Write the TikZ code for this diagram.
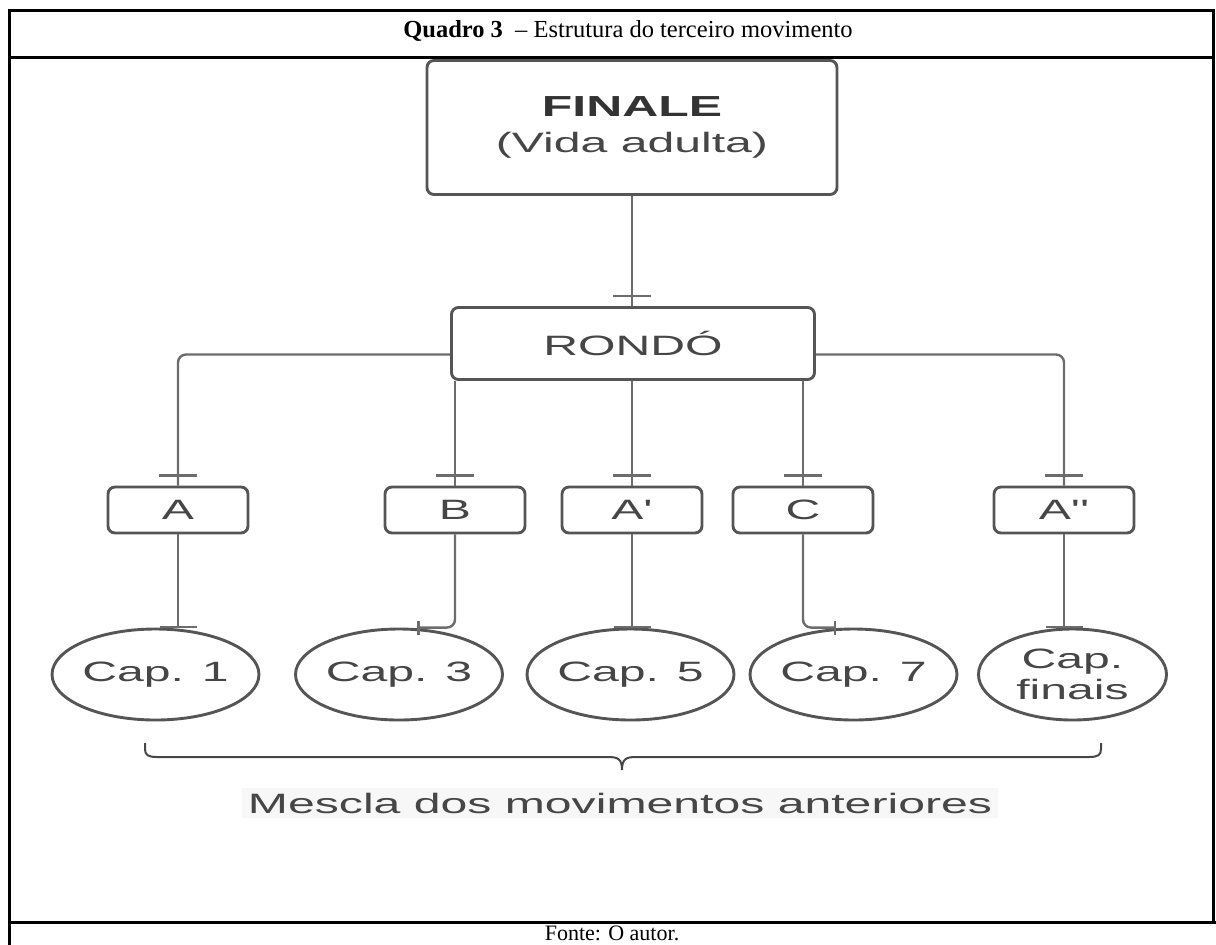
\documentclass[tikz,border=0pt]{standalone}
\usepackage{fontspec}
\setmainfont{Liberation Serif}
\newfontfamily\diagfont[FakeStretch=1.72]{Liberation Sans}
\usetikzlibrary{calc,decorations.markings,shapes.geometric}

\definecolor{wiregray}{RGB}{108,108,108}
\definecolor{outlinegray}{RGB}{85,85,85}
\definecolor{inkgray}{RGB}{70,70,70}
\definecolor{bracegray}{RGB}{70,70,70}

\begin{document}
\begin{tikzpicture}[x=1pt,y=-1pt,
  frameline/.style={line width=3pt, draw=black},
  stage/.style={draw=outlinegray, line width=2.9pt, rounded corners=7pt, text=inkgray,
    inner sep=0pt, align=center, font=\diagfont\fontsize{28}{36}\selectfont},
  part/.style={stage, minimum width=140pt, minimum height=46pt},
  chapter/.style={ellipse, draw=outlinegray, line width=2.9pt, text=inkgray, inner sep=0pt,
    minimum width=188pt, minimum height=91pt, align=center,
    font=\diagfont\fontsize{28}{31}\selectfont},
  wire/.style={draw=wiregray, line width=2.4pt},
  tickin/.style={decoration={markings, mark=at position -10pt with
    {\draw[draw=wiregray, line width=2.4pt] (0pt,-19pt) -- (0pt,19pt);}}, postaction={decorate}},
  tickendv/.style={decoration={markings, mark=at position -0.5pt with
    {\draw[draw=wiregray, line width=2.4pt] (0pt,-18.5pt) -- (0pt,18.5pt);}}, postaction={decorate}},
  tickendh/.style={decoration={markings, mark=at position -0.5pt with
    {\draw[draw=wiregray, line width=2.4pt] (0pt,-7pt) -- (0pt,7pt);}}, postaction={decorate}},
  bracket/.style={draw=bracegray, line width=2pt},
  caption/.style={anchor=base}
]
\useasboundingbox (0,0) rectangle (1216,945);

% table frame
\draw[frameline] (9,945) -- (9,10) -- (1213,10) -- (1213,922);
\draw[frameline] (9,57) -- (1213,57);
\draw[frameline] (9,922) -- (1216,922);

\node[caption, font=\fontsize{24.5}{28}\selectfont] (title) at (628,37)
  {\textbf{Quadro 3}~ -- Estrutura do terceiro movimento};
\node[caption, font=\fontsize{22}{26}\selectfont] (source) at (612,940) {Fonte: O autor.};

% hierarchy
\node[stage, minimum width=410pt, minimum height=134pt] (finale) at (632,127.5)
  {{\bfseries\color{black!80}\fontsize{29}{36}\selectfont FINALE}\\(Vida adulta)};
\node[stage, minimum width=363pt, minimum height=72pt] (rondo) at (633,343.5) {RONDÓ};

\node[part] (pa)  at (178,510)  {A};
\node[part] (pb)  at (455,510)  {B};
\node[part] (pa1) at (632,510)  {A'};
\node[part] (pc)  at (803,510)  {C};
\node[part] (pa2) at (1064,510) {A''};

\node[chapter] (c1) at (155.5,674.5) {Cap. 1};
\node[chapter] (c3) at (399,674.5)   {Cap. 3};
\node[chapter] (c5) at (630.5,674.5) {Cap. 5};
\node[chapter] (c7) at (853.5,674.5) {Cap. 7};
\node[chapter] (cf) at (1072.5,674.5) {Cap.\\finais};

% connectors
\draw[wire, tickin] (finale.south) -- (finale.south |- rondo.north);
\draw[wire, rounded corners=8pt, tickin] ($(rondo.west)+(0,11)$) -| (pa.north);
\draw[wire, rounded corners=8pt, tickin] ($(rondo.east)+(0,11)$) -| (pa2.north);
\draw[wire, tickin] (pb.north |- rondo.south) -- (pb.north);
\draw[wire, tickin] (pa1.north |- rondo.south) -- (pa1.north);
\draw[wire, tickin] (pc.north |- rondo.south) -- (pc.north);

\draw[wire, tickendv] (pa.south) -- (pa.south |- c1.north);
\draw[wire, rounded corners=8pt, tickendh] (pb.south) |- ($(c3.north)+(19,0)$);
\draw[wire, tickendv] (pa1.south) -- (pa1.south |- c5.north);
\draw[wire, rounded corners=8pt, tickendh] (pc.south) |- ($(c7.north)+(-18,0)$);
\draw[wire, tickendv] (pa2.south) -- (pa2.south |- cf.north);

% grouping brace and its label
\draw[bracket] (145,743) -- (145,749) .. controls (145,755) and (148,757) .. (157,757)
  -- (608,757) .. controls (618,757) and (622,759) .. (622,770)
  .. controls (622,759) and (626,757) .. (636,757)
  -- (1089,757) .. controls (1098,757) and (1101,755) .. (1101,749) -- (1101,743);
\node[fill=black!3, inner xsep=6pt, inner ysep=5pt, text=inkgray,
  font=\diagfont\fontsize{28}{31}\selectfont] (mix) at (620,803) {Mescla dos movimentos anteriores};
\end{tikzpicture}
\end{document}
